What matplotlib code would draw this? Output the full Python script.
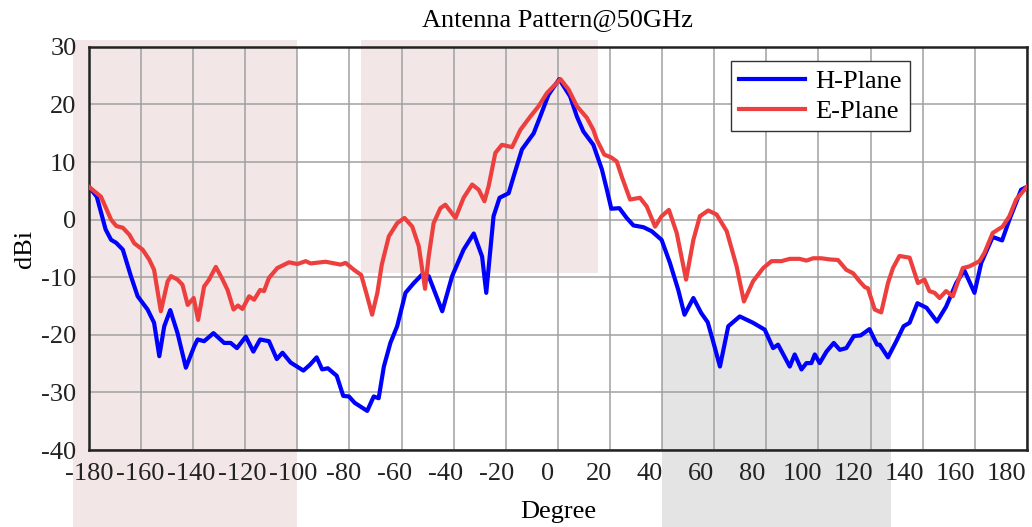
import matplotlib
matplotlib.use('Agg')
import numpy as np
import matplotlib.pyplot as plt
from matplotlib.patches import Rectangle
from matplotlib.transforms import ScaledTranslation

# --- Datos (grados, dBi) ---
h_deg = [-180, -177, -173.6, -171.5, -169.6, -167, -163.9, -161.3, -157.5, -155, -153, -151.1,
         -148.8, -146, -142.8, -139.6, -138.3, -135.8, -132.2, -128.1, -125.6, -123.2, -119.8,
         -116.9, -114.3, -110.9, -107.9, -105.7, -102.6, -97.7, -95.2, -92.6, -90.5, -88.3,
         -84.9, -82.4, -80.2, -78, -73.2, -70.7, -68.8, -66.8, -64.3, -61.7, -58.5, -55.3,
         -52.1, -49.6, -44.4, -40.6, -36.2, -32.3, -29.1, -27.5, -24.7, -22.4, -18.9, -17,
         -13.8, -9.3, -6.8, -3.6, 0.5, 4.7, 7.3, 9.8, 13.6, 16.9, 18.8, 20.5, 23.6, 26.4, 29,
         32.8, 36, 39.8, 43, 46.2, 48.6, 52, 55, 57.5, 59.5, 62.2, 65.4, 69.8, 74.9, 79.4,
         82.6, 84.5, 89, 90.9, 93.5, 95.4, 97.3, 98.6, 100.5, 103.1, 105.9, 108.2, 110.7,
         113.6, 116.2, 119.6, 122.5, 123.5, 126.7, 129.9, 132.7, 135, 138, 141.5, 145.5, 149,
         152.9, 156, 159.9, 162.5, 166.9, 170.5, 173.3, 177.8, 180]
h_dbi = [5.7, 4, -1.7, -3.5, -4.0, -5.2, -9.8, -13.3, -15.6, -17.9, -23.7, -18.5,
         -15.7, -19.7, -25.7, -22, -20.8, -21.1, -19.7, -21.4, -21.4, -22.3, -20.3,
         -22.9, -20.8, -21.1, -24.2, -23.1, -24.8, -26.2, -25.2, -23.9, -26, -25.8,
         -27.1, -30.6, -30.7, -31.8, -33.2, -30.7, -31, -25.5, -21.4, -18.5, -12.7, -11,
         -9.5, -9.8, -15.9, -9.8, -5.2, -2.4, -6.4, -12.7, 0.6, 3.8, 4.6, 7.5,
         12.2, 15, 17.9, 21.7, 24.4, 21.4, 17.9, 15.3, 13, 8.7, 5.2, 1.9, 2.0, 0.3, -1,
         -1.3, -2, -3.5, -7.5, -12.2, -16.5, -13.6, -16.2, -17.8, -21, -25.5, -18.5, -16.8, -17.9, -19.1,
         -22.3, -21.7, -25.5, -23.4, -26, -24.9, -24.9, -23.4, -24.9, -22.9, -21.4, -22.6, -22.3,
         -20.2, -20.1, -19, -21.7, -21.7, -23.9, -21.1, -18.5, -17.9, -14.5, -15.3, -17.7, -15.1,
         -11, -8.8, -12.7, -7.5, -3, -3.6, 0, 5.2, 5.7]

e_deg = [-180, -175.4, -171.5, -169.5, -167, -164.5, -162.6, -159.4, -156.9, -155, -152.4,
         -149.8, -148.5, -146, -144.1, -142.1, -139.8, -138.1, -135.8, -133.9, -131.3, -128.7,
         -126.8, -124.5, -122.8, -121.1, -118.5, -116.6, -114.3, -112.8, -110.9, -107.7, -103.2,
         -100, -96.8, -94.9, -91.1, -89.2, -83.4, -81.5, -78.3, -75.5, -73.2, -71.3, -69.3,
         -67.6, -64.9, -61.7, -58.9, -55.9, -53.4, -51, -49.6, -47.7, -45.1, -43.2, -39.3,
         -36.2, -32.9, -30.4, -28.2, -26.6, -24, -21.5, -17.6, -14.4, -10.6, -7.4, -4.2, 1,
         4.1, 7.3, 11.1, 13.6, 14.9, 17.8, 20.5, 22.6, 24.5, 27.7, 31.5, 34.1, 37.3, 39.8, 42.6,
         45.6, 49.2, 52, 54.5, 57.7, 60.9, 64.8, 68.6, 71.4, 74.9, 78.8, 82, 85.8, 89, 92.8,
         95.4, 98, 101.1, 104.3, 107.5, 110.7, 113.3, 115.8, 117.8, 119, 121.6, 124.1, 126.7,
         128.6, 131.1, 135, 138.2, 140.7, 142.6, 144.6, 146.5, 149, 151.6, 155.4, 158, 161.8,
         163.7, 166.9, 170.7, 173.3, 175.9, 180]
e_dbi = [5.7, 4.0, 0, -1.1, -1.4, -2.6, -4.1, -5.2, -6.9, -8.7, -15.9,
         -10.7, -9.8, -10.4, -11.3, -14.8, -13.6, -17.4, -11.6, -10.4, -8.2, -10.4,
         -12.2, -15.6, -14.9, -15.5, -13.3, -13.9, -12.2, -12.4, -10.1, -8.4, -7.4,
         -7.7, -7.2, -7.6, -7.4, -7.3, -7.8, -7.5, -8.7, -9.6, -13.3, -16.5, -12.7,
         -7.8, -2.9, -0.6, 0.3, -1.2, -4.6, -12, -6.4, -0.6, 2.0, 2.6, 0.3,
         3.8, 6.1, 5.2, 3.2, 5.8, 11.6, 13, 12.6, 15.6, 17.9, 19.7, 22, 24.4,
         22.6, 19.7, 17.7, 15.6, 13.9, 11.3, 10.8, 10.1, 7.5, 3.5, 3.8, 2.3, -1.2, 0.6, 1.7,
         -2.3, -10.4, -3.5, 0.6, 1.6, 0.9, -2, -8.1, -14.2, -10.7, -8.4, -7.2, -7.2, -6.8, -6.8,
         -7.1, -6.7, -6.7, -6.9, -7, -8.7, -9.3, -10.7, -11.7, -11.9, -15.6, -16.1, -11,
         -8.4, -6.3, -6.6, -11, -10.4, -12.4, -12.7, -13.6, -12.4, -13.3, -8.4, -8.1, -7.2,
         -5.8, -2.3, -1.2, 0.6, 3.5, 5.7]

x_ticks = np.arange(-180, 181, 20)
y_ticks = np.arange(-40, 31, 10)

# Zonas resaltadas (x0, x1, y0, y1) en grados / dBi
zonas = [(-186.2, -100, -60, 31.25, '#f2e6e6'),
         (-75.6, 15.3, -9.2, 31.25, '#f2e6e6'),
         (40, 128, -60, -20, '#e4e4e4')]

plt.rcParams['font.family'] = 'Liberation Serif'
plt.rcParams['font.size'] = 19
plt.rcParams['axes.unicode_minus'] = False

fig = plt.figure(figsize=(10.32, 5.27), dpi=100)
ax = fig.add_axes([0.0862, 0.146, 0.9088, 0.765])
ax.set_facecolor('none')

for x0, x1, y0, y1, c in zonas:
    ax.add_patch(Rectangle((x0, y0), x1 - x0, y1 - y0, facecolor=c, edgecolor='none',
                           clip_on=False, zorder=0.5))

ax.plot(h_deg, h_dbi, color='#0000ff', lw=3, label='H-Plane', zorder=3)
ax.plot(e_deg, e_dbi, color='#ee3f3f', lw=3, label='E-Plane', zorder=4)

ax.set_xlim(-180, 180)
ax.set_ylim(-40, 30)
ax.set_xticks(x_ticks)
ax.set_yticks(y_ticks)
ax.tick_params(length=0, colors='#222222')
ax.tick_params(axis='x', pad=9)
ax.tick_params(axis='y', pad=9)
ax.grid(True, color='#a0a0a0', lw=1.1)
for s in ax.spines.values():
    s.set_linewidth(1.8)
    s.set_color('#222222')

# etiquetas del eje x algo comprimidas hacia la izquierda (como en el original)
fig.canvas.draw()
for t, lab in zip(x_ticks, ax.get_xticklabels()):
    dx = -(t + 180) / 360 * 20 / 100.0
    lab.set_transform(lab.get_transform() + ScaledTranslation(dx, 0, fig.dpi_scale_trans))

ax.set_title('Antenna Pattern@50GHz', fontsize=19, pad=15)
ax.set_xlabel('Degree', labelpad=12)
ax.set_ylabel('dBi', labelpad=4)

leg = ax.legend(loc='upper right', bbox_to_anchor=(0.875, 0.964), borderaxespad=0,
                fancybox=False, framealpha=1, edgecolor='#333333', handlelength=2.5,
                labelspacing=0.25, borderpad=0.3, handletextpad=0.4)
leg.get_frame().set_linewidth(1.0)

fig.savefig('out.png', dpi=100)
